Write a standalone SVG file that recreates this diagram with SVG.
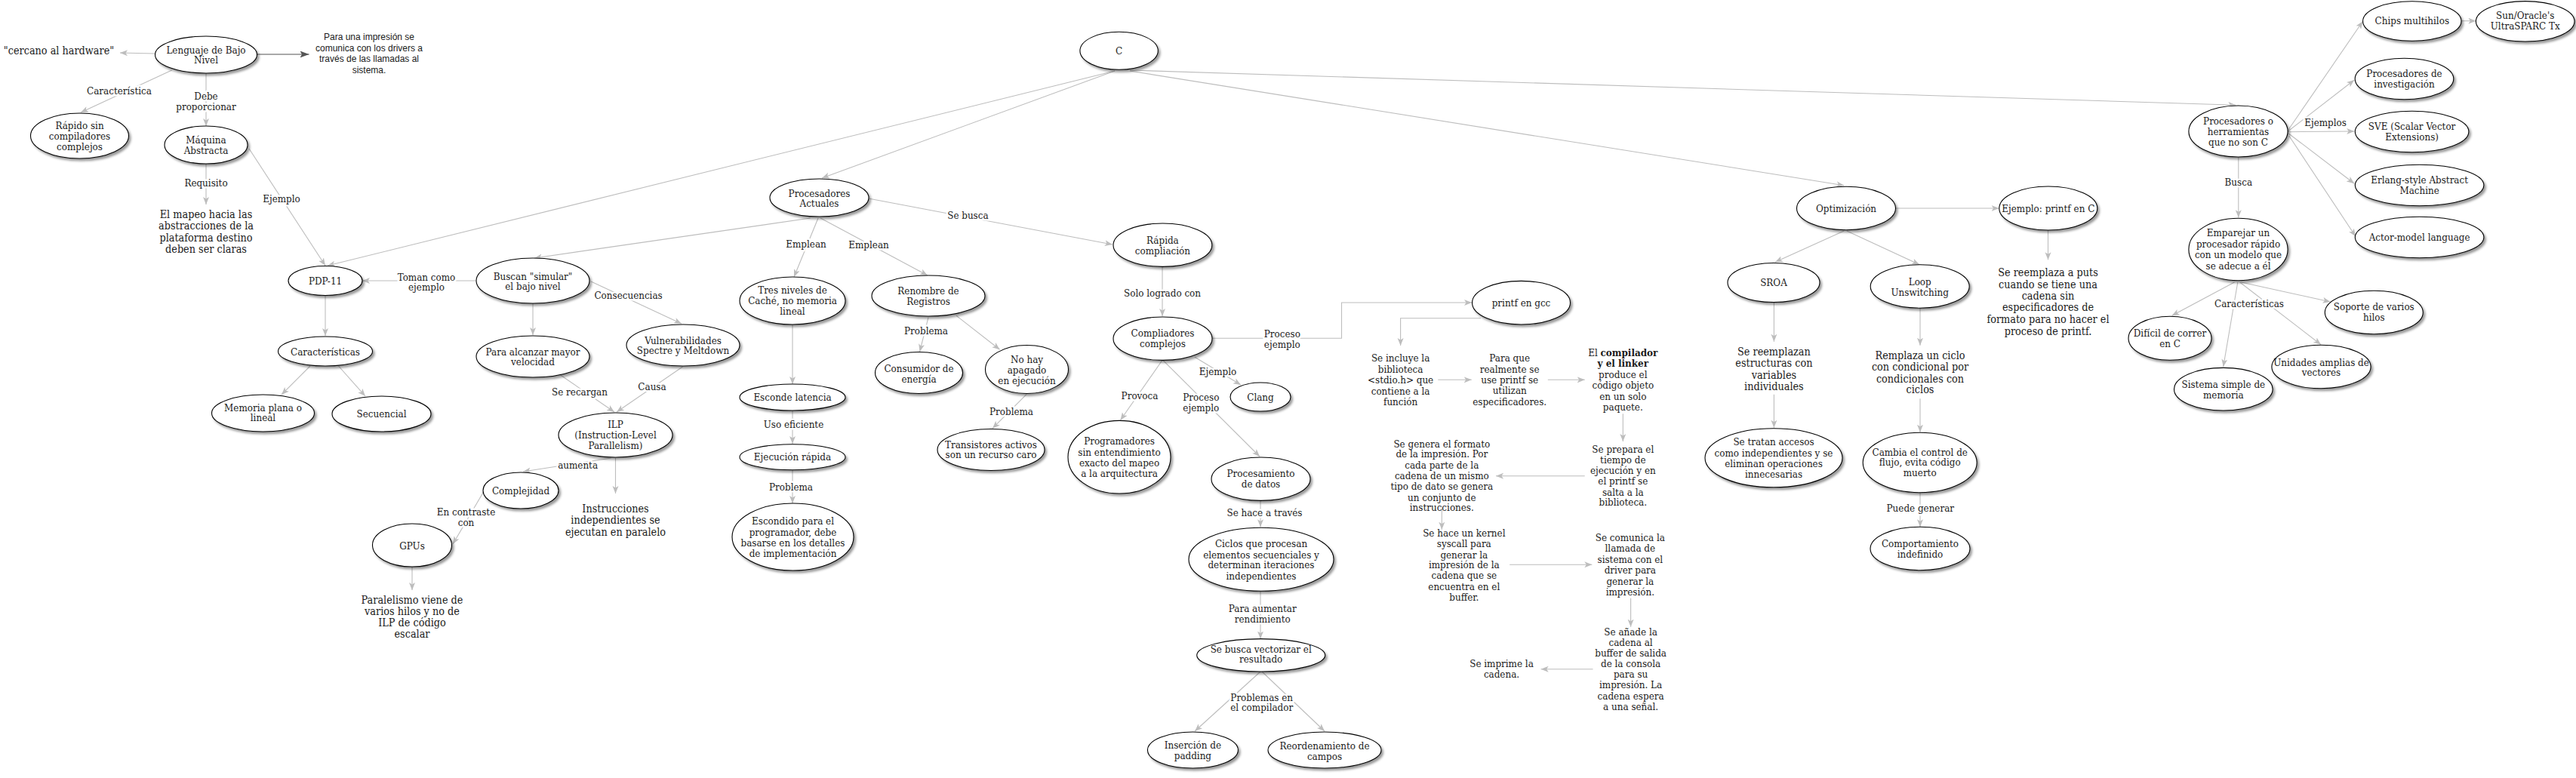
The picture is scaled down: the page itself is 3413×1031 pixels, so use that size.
<svg xmlns="http://www.w3.org/2000/svg" width="3413" height="1031" viewBox="0 0 3413 1031">
<style>
.n{fill:#fff;stroke:#000;stroke-width:1.1;filter:url(#sh)}
text{font-family:'DejaVu Serif Condensed','DejaVu Serif',serif;font-stretch:condensed;fill:#1a1a1a;text-anchor:middle}
.t{font-size:13.3px}
.f{font-size:14.3px}
.s{font-family:'Liberation Sans',Arial,sans-serif;font-stretch:normal;font-size:12px}
.l{font-size:13.3px;paint-order:stroke;stroke:#fff;stroke-width:5px;stroke-linejoin:round}
.e path{fill:none;stroke:#bdbdbd;stroke-width:1.1;marker-end:url(#ar)}
.e path.d{stroke:#555;marker-end:url(#ad)}
.b{font-weight:bold}
</style>
<defs>
<filter id="sh" x="-10%" y="-10%" width="130%" height="140%"><feDropShadow dx="2.5" dy="3" stdDeviation="1.5" flood-color="#000" flood-opacity="0.4"/></filter>
<marker id="ar" markerUnits="userSpaceOnUse" markerWidth="11" markerHeight="9" refX="10" refY="4" orient="auto"><path d="M0,0 L10,4 L0,8 L2.5,4 z" fill="#bdbdbd"/></marker>
<marker id="ad" markerUnits="userSpaceOnUse" markerWidth="13" markerHeight="10" refX="12" refY="4.5" orient="auto"><path d="M0,0 L12,4.5 L0,9 L2.5,4.5 z" fill="#555"/></marker>
</defs>
<rect width="3413" height="1031" fill="#fff"/>
<g id="connectors" class="e">
<path d="M205,71 L159,70"/>
<path class="d" d="M340.6,72 L409.5,72"/>
<path d="M227.7,93 L107,149"/>
<path d="M273,97 L273,167"/>
<path d="M273,217 L273,271"/>
<path d="M330,197 L431,352"/>
<path d="M1477,94 L434,352"/>
<path d="M630.5,372 L480,372"/>
<path d="M431,392 L431,445"/>
<path d="M411,485 L373,523"/>
<path d="M448.5,485 L484,525"/>
<path d="M546,751 L546,782"/>
<path d="M1477,94 L1089,236"/>
<path d="M1073.7,289 L708,342"/>
<path d="M706,402 L706,444"/>
<path d="M783,373 L903,429"/>
<path d="M1084,289 L1052,367"/>
<path d="M1087,289 L1229,365"/>
<path d="M1050,430 L1050,509"/>
<path d="M1050,544 L1050,588"/>
<path d="M1050,623 L1050,667"/>
<path d="M742.6,497 L814,546"/>
<path d="M904.5,486 L817,546"/>
<path d="M809.6,607 L693,625"/>
<path d="M815.5,607 L815.5,654"/>
<path d="M640.5,652 L600,721"/>
<path d="M1152,263.3 L1473.8,324"/>
<path d="M1540,353.3 L1540,419"/>
<path d="M1606,448.3 L1777.5,448.3 L1777.5,401 L1950,401"/>
<path d="M1583,473.3 L1644,510"/>
<path d="M1540,477.3 L1484.5,556.7"/>
<path d="M1540.8,477.3 L1669,605"/>
<path d="M1230,420.7 L1218.6,466"/>
<path d="M1267,418.3 L1324.6,463.3"/>
<path d="M1360,522.7 L1315,567.7"/>
<path d="M1670,663.3 L1670,698.3"/>
<path d="M1670,783.3 L1670,846.5"/>
<path d="M1670,890 L1583,969"/>
<path d="M1672,890 L1755,969"/>
<path d="M1962,421.7 L1855.6,421.7 L1855.6,458"/>
<path d="M1905.3,503.3 L1949.7,503.3"/>
<path d="M2050.8,503.3 L2099.7,503.3"/>
<path d="M2150.3,548.3 L2150.3,585"/>
<path d="M2099.7,630.7 L1982,630.7"/>
<path d="M1910.3,674 L1910.3,701.7"/>
<path d="M2000.2,748.3 L2109.3,748.3"/>
<path d="M2160.6,792.7 L2160.6,830.7"/>
<path d="M2110.5,886.7 L2041.6,886.7"/>
<path d="M1497,93 L2962.3,139.3"/>
<path d="M1497,94 L2443.2,245.7"/>
<path d="M2511.8,276 L2648.6,276"/>
<path d="M2713.5,305 L2713.5,344.3"/>
<path d="M2443.2,306 L2352,347.3"/>
<path d="M2446.8,306 L2543.2,350.7"/>
<path d="M2350.4,400.7 L2350.4,452.7"/>
<path d="M2350.4,522.7 L2350.4,566.7"/>
<path d="M2544,408.3 L2544,457.7"/>
<path d="M2544,528.3 L2544,572.7"/>
<path d="M2544,652.7 L2544,698.3"/>
<path d="M3031,173.3 L3130.5,28.3"/>
<path d="M3031,174.3 L3119.2,106"/>
<path d="M3031,174.7 L3119.2,174"/>
<path d="M3032,176.7 L3119.2,243.3"/>
<path d="M3032.8,180 L3121,313.3"/>
<path d="M3261,27.7 L3280.4,27.7"/>
<path d="M2965.8,208.3 L2965.8,288.3"/>
<path d="M2960.5,374 L2877.6,418.3"/>
<path d="M2964.8,374 L2945.7,486"/>
<path d="M2967.6,374 L3075.1,456.7"/>
<path d="M2969.3,374 L3087.5,400"/>
</g>
<g id="edge-labels" class="l">
<text x="158" y="124.7">Característica</text>
<text x="273" y="131.7">Debe<tspan x="273" y="145.7">proporcionar</tspan></text>
<text x="273" y="246.7">Requisito</text>
<text x="373" y="267.7">Ejemplo</text>
<text x="565" y="371.7">Toman como<tspan x="565" y="384.7">ejemplo</tspan></text>
<text x="832.6" y="395.7">Consecuencias</text>
<text x="768" y="523.7">Se recargan</text>
<text x="864" y="516.7">Causa</text>
<text x="765.6" y="620.7">aumenta</text>
<text x="617.5" y="682.7">En contraste<tspan x="617.5" y="696.7">con</tspan></text>
<text x="1068" y="327.7">Emplean</text>
<text x="1151" y="328.7">Emplean</text>
<text x="1051.5" y="566.7">Uso eficiente</text>
<text x="1048" y="649.7">Problema</text>
<text x="1282.4" y="290.4">Se busca</text>
<text x="1540" y="393">Solo logrado con</text>
<text x="1698.8" y="447.4">Proceso<tspan x="1698.8" y="460.7">ejemplo</tspan></text>
<text x="1227" y="443">Problema</text>
<text x="1340" y="550.4">Problema</text>
<text x="1613.5" y="497.4">Ejemplo</text>
<text x="1510" y="529">Provoca</text>
<text x="1591.3" y="530.7">Proceso<tspan x="1591.3" y="544.7">ejemplo</tspan></text>
<text x="1675.5" y="684">Se hace a través</text>
<text x="1672.8" y="811.4">Para aumentar<tspan x="1672.8" y="825.4">rendimiento</tspan></text>
<text x="1671.7" y="928.7">Problemas en<tspan x="1671.7" y="942">el compilador</tspan></text>
<text x="2544.3" y="678">Puede generar</text>
<text x="2965.8" y="246.4">Busca</text>
<text x="3081.1" y="167.4">Ejemplos</text>
<text x="2980" y="407">Características</text>
</g>
<g id="lenguaje"><ellipse class="n" cx="273" cy="72.5" rx="67.5" ry="24.5"/><text class="t"><tspan x="273" y="70.7">Lenguaje de Bajo</tspan><tspan x="273" y="83.7">Nivel</tspan></text></g>
<g id="cercano"><text class="f" x="78" y="71.8">"cercano al hardware"</text></g>
<g id="para-impresion"><text class="s"><tspan x="489" y="53.3">Para una impresión se</tspan><tspan x="489" y="68.3">comunica con los drivers a</tspan><tspan x="489" y="82.3">través de las llamadas al</tspan><tspan x="489" y="97.3">sistema.</tspan></text></g>
<g id="rapido"><ellipse class="n" cx="105.5" cy="180" rx="65" ry="30"/><text class="t"><tspan x="105.5" y="170.7">Rápido sin</tspan><tspan x="105.5" y="184.7">compiladores</tspan><tspan x="105.5" y="198.7">complejos</tspan></text></g>
<g id="maquina"><ellipse class="n" cx="273" cy="192" rx="55" ry="25"/><text class="t"><tspan x="273" y="189.7">Máquina</tspan><tspan x="273" y="203.7">Abstracta</tspan></text></g>
<g id="mapeo"><text class="f"><tspan x="273" y="289">El mapeo hacia las</tspan><tspan x="273" y="304">abstracciones de la</tspan><tspan x="273" y="320">plataforma destino</tspan><tspan x="273" y="335">deben ser claras</tspan></text></g>
<g id="pdp11"><ellipse class="n" cx="431" cy="372" rx="49" ry="19.5"/><text class="t" x="431" y="376.7">PDP-11</text></g>
<g id="caracteristicas1"><ellipse class="n" cx="431" cy="465.5" rx="62.5" ry="19.5"/><text class="t" x="431" y="470.7">Características</text></g>
<g id="memoria"><ellipse class="n" cx="348.5" cy="547.5" rx="68" ry="24.5"/><text class="t"><tspan x="348.5" y="544.7">Memoria plana o</tspan><tspan x="348.5" y="558.2">lineal</tspan></text></g>
<g id="secuencial"><ellipse class="n" cx="505.5" cy="548.5" rx="65.5" ry="23.5"/><text class="t" x="505.5" y="552.7">Secuencial</text></g>
<g id="gpus"><ellipse class="n" cx="546" cy="722.5" rx="52.5" ry="28.5"/><text class="t" x="546" y="727.7">GPUs</text></g>
<g id="paralelismo"><text class="f"><tspan x="546" y="800">Paralelismo viene de</tspan><tspan x="546" y="815">varios hilos y no de</tspan><tspan x="546" y="830">ILP de código</tspan><tspan x="546" y="845">escalar</tspan></text></g>
<g id="c"><ellipse class="n" cx="1482.6" cy="67.3" rx="51.7" ry="25"/><text class="t" x="1482.6" y="71.7">C</text></g>
<g id="procesadores-actuales"><ellipse class="n" cx="1085.5" cy="262" rx="65.5" ry="25"/><text class="t"><tspan x="1085.5" y="260.7">Procesadores</tspan><tspan x="1085.5" y="273.7">Actuales</tspan></text></g>
<g id="buscan"><ellipse class="n" cx="706" cy="372" rx="75" ry="30"/><text class="t"><tspan x="706" y="370.7">Buscan "simular"</tspan><tspan x="706" y="383.7">el bajo nivel</tspan></text></g>
<g id="alcanzar"><ellipse class="n" cx="706" cy="472.5" rx="75" ry="27.5"/><text class="t"><tspan x="706" y="470.7">Para alcanzar mayor</tspan><tspan x="706" y="483.7">velocidad</tspan></text></g>
<g id="vulnerabilidades"><ellipse class="n" cx="905" cy="457.5" rx="75" ry="27.5"/><text class="t"><tspan x="905" y="455.7">Vulnerabilidades</tspan><tspan x="905" y="468.7">Spectre y Meltdown</tspan></text></g>
<g id="tres-niveles"><ellipse class="n" cx="1050" cy="398.5" rx="70" ry="31.5"/><text class="t"><tspan x="1050" y="388.7">Tres niveles de</tspan><tspan x="1050" y="402.7">Caché, no memoria</tspan><tspan x="1050" y="416.7">lineal</tspan></text></g>
<g id="esconde"><ellipse class="n" cx="1050" cy="526.5" rx="70" ry="17.5"/><text class="t" x="1050" y="531.4">Esconde latencia</text></g>
<g id="ejecucion"><ellipse class="n" cx="1050" cy="605.8" rx="70" ry="17"/><text class="t" x="1050" y="610.4">Ejecución rápida</text></g>
<g id="escondido"><ellipse class="n" cx="1050.5" cy="711.5" rx="80.5" ry="44.5"/><text class="t"><tspan x="1050.5" y="695.4">Escondido para el</tspan><tspan x="1050.5" y="709.7">programador, debe</tspan><tspan x="1050.5" y="723.7">basarse en los detalles</tspan><tspan x="1050.5" y="738.4">de implementación</tspan></text></g>
<g id="ilp"><ellipse class="n" cx="815.5" cy="576.5" rx="75.5" ry="29.5"/><text class="t"><tspan x="815.5" y="566.7">ILP</tspan><tspan x="815.5" y="580.7">(Instruction-Level</tspan><tspan x="815.5" y="594.7">Parallelism)</tspan></text></g>
<g id="complejidad"><ellipse class="n" cx="690" cy="650" rx="50" ry="24"/><text class="t" x="690" y="654.7">Complejidad</text></g>
<g id="instrucciones"><text class="f"><tspan x="815.5" y="679">Instrucciones</tspan><tspan x="815.5" y="694">independientes se</tspan><tspan x="815.5" y="710">ejecutan en paralelo</tspan></text></g>
<g id="rapida"><ellipse class="n" cx="1540.4" cy="324.7" rx="65.4" ry="28.7"/><text class="t"><tspan x="1540.4" y="323.4">Rápida</tspan><tspan x="1540.4" y="337">compliación</tspan></text></g>
<g id="compliadores"><ellipse class="n" cx="1540.5" cy="448.7" rx="65.5" ry="28.7"/><text class="t"><tspan x="1540.5" y="446.4">Compliadores</tspan><tspan x="1540.5" y="460.4">complejos</tspan></text></g>
<g id="renombre"><ellipse class="n" cx="1230" cy="392" rx="75" ry="27"/><text class="t"><tspan x="1230" y="390.4">Renombre de</tspan><tspan x="1230" y="404">Registros</tspan></text></g>
<g id="consumidor"><ellipse class="n" cx="1217.5" cy="494" rx="58" ry="27.5"/><text class="t"><tspan x="1217.5" y="493">Consumidor de</tspan><tspan x="1217.5" y="507.4">energía</tspan></text></g>
<g id="no-hay"><ellipse class="n" cx="1360.5" cy="489.5" rx="55" ry="32"/><text class="t"><tspan x="1360.5" y="481.4">No hay</tspan><tspan x="1360.5" y="495.4">apagado</tspan><tspan x="1360.5" y="509">en ejecución</tspan></text></g>
<g id="clang"><ellipse class="n" cx="1670" cy="526" rx="40" ry="19"/><text class="t" x="1670" y="530.7">Clang</text></g>
<g id="transistores"><ellipse class="n" cx="1313" cy="596" rx="71" ry="27.5"/><text class="t"><tspan x="1313" y="594">Transistores activos</tspan><tspan x="1313" y="607.4">son un recurso caro</tspan></text></g>
<g id="programadores"><ellipse class="n" cx="1483" cy="605.7" rx="68" ry="48.3"/><text class="t"><tspan x="1483" y="588.7">Programadores</tspan><tspan x="1483" y="603.7">sin entendimiento</tspan><tspan x="1483" y="618">exacto del mapeo</tspan><tspan x="1483" y="632">a la arquitectura</tspan></text></g>
<g id="procesamiento"><ellipse class="n" cx="1670.5" cy="634.7" rx="65.5" ry="28.7"/><text class="t"><tspan x="1670.5" y="632">Procesamiento</tspan><tspan x="1670.5" y="646">de datos</tspan></text></g>
<g id="ciclos"><ellipse class="n" cx="1671" cy="741.3" rx="96" ry="42"/><text class="t"><tspan x="1671" y="724.7">Ciclos que procesan</tspan><tspan x="1671" y="739.7">elementos secuenciales y</tspan><tspan x="1671" y="753.4">determinan iteraciones</tspan><tspan x="1671" y="768">independientes</tspan></text></g>
<g id="vectorizar"><ellipse class="n" cx="1670.7" cy="868.3" rx="85" ry="21.7"/><text class="t"><tspan x="1670.7" y="864.7">Se busca vectorizar el</tspan><tspan x="1670.7" y="878">resultado</tspan></text></g>
<g id="insercion"><ellipse class="n" cx="1580.4" cy="994" rx="60" ry="24"/><text class="t"><tspan x="1580.4" y="992.4">Inserción de</tspan><tspan x="1580.4" y="1006.4">padding</tspan></text></g>
<g id="reordenamiento"><ellipse class="n" cx="1755" cy="994" rx="75" ry="24"/><text class="t"><tspan x="1755" y="992.7">Reordenamiento de</tspan><tspan x="1755" y="1006.7">campos</tspan></text></g>
<g id="printf-gcc"><ellipse class="n" cx="2015.5" cy="401.2" rx="65" ry="28.8"/><text class="t" x="2015.5" y="406.4">printf en gcc</text></g>
<g id="se-incluye"><text class="t"><tspan x="1855.6" y="479">Se incluye la</tspan><tspan x="1855.6" y="494">biblioteca</tspan><tspan x="1855.6" y="508">&lt;stdio.h&gt; que</tspan><tspan x="1855.6" y="522.7">contiene a la</tspan><tspan x="1855.6" y="537">función</tspan></text></g>
<g id="para-que"><text class="t"><tspan x="2000.2" y="479">Para que</tspan><tspan x="2000.2" y="494">realmente se</tspan><tspan x="2000.2" y="508">use printf se</tspan><tspan x="2000.2" y="522">utilizan</tspan><tspan x="2000.2" y="537">especificadores.</tspan></text></g>
<g id="el-compilador"><text class="t"><tspan x="2150.3" y="472.4">El <tspan class="b">compilador</tspan></tspan><tspan x="2150.3" y="486.4" class="b">y el linker</tspan><tspan x="2150.3" y="501.4">produce el</tspan><tspan x="2150.3" y="515.4">código objeto</tspan><tspan x="2150.3" y="530.4">en un solo</tspan><tspan x="2150.3" y="544">paquete.</tspan></text></g>
<g id="se-prepara"><text class="t"><tspan x="2150.3" y="599.7">Se prepara el</tspan><tspan x="2150.3" y="613.7">tiempo de</tspan><tspan x="2150.3" y="628">ejecución y en</tspan><tspan x="2150.3" y="642">el printf se</tspan><tspan x="2150.3" y="656.7">salta a la</tspan><tspan x="2150.3" y="670.4">biblioteca.</tspan></text></g>
<g id="se-genera"><text class="t"><tspan x="1910.3" y="593">Se genera el formato</tspan><tspan x="1910.3" y="606.4">de la impresión. Por</tspan><tspan x="1910.3" y="621.4">cada parte de la</tspan><tspan x="1910.3" y="635.4">cadena de un mismo</tspan><tspan x="1910.3" y="649">tipo de dato se genera</tspan><tspan x="1910.3" y="663.7">un conjunto de</tspan><tspan x="1910.3" y="677.4">instrucciones.</tspan></text></g>
<g id="se-hace-kernel"><text class="t"><tspan x="1939.8" y="710.7">Se hace un kernel</tspan><tspan x="1939.8" y="724.7">syscall para</tspan><tspan x="1939.8" y="739.7">generar la</tspan><tspan x="1939.8" y="753.4">impresión de la</tspan><tspan x="1939.8" y="767.4">cadena que se</tspan><tspan x="1939.8" y="782">encuentra en el</tspan><tspan x="1939.8" y="795.7">buffer.</tspan></text></g>
<g id="se-comunica"><text class="t"><tspan x="2159.8" y="717.4">Se comunica la</tspan><tspan x="2159.8" y="731.4">llamada de</tspan><tspan x="2159.8" y="746.4">sistema con el</tspan><tspan x="2159.8" y="760.4">driver para</tspan><tspan x="2159.8" y="774.7">generar la</tspan><tspan x="2159.8" y="788.7">impresión.</tspan></text></g>
<g id="se-anade"><text class="t"><tspan x="2160.6" y="842">Se añade la</tspan><tspan x="2160.6" y="855.7">cadena al</tspan><tspan x="2160.6" y="869.7">buffer de salida</tspan><tspan x="2160.6" y="884">de la consola</tspan><tspan x="2160.6" y="898">para su</tspan><tspan x="2160.6" y="912.4">impresión. La</tspan><tspan x="2160.6" y="926.7">cadena espera</tspan><tspan x="2160.6" y="940.7">a una señal.</tspan></text></g>
<g id="se-imprime"><text class="t"><tspan x="1989.5" y="884">Se imprime la</tspan><tspan x="1989.5" y="898">cadena.</tspan></text></g>
<g id="optimizacion"><ellipse class="n" cx="2446" cy="276" rx="65.5" ry="28.8"/><text class="t" x="2446" y="281.4">Optimización</text></g>
<g id="ejemplo-printf"><ellipse class="n" cx="2713.8" cy="276" rx="65" ry="29"/><text class="t" x="2713.8" y="281.4">Ejemplo: printf en C</text></g>
<g id="se-reemplaza"><text class="f"><tspan x="2713.5" y="365.7">Se reemplaza a puts</tspan><tspan x="2713.5" y="381.7">cuando se tiene una</tspan><tspan x="2713.5" y="396.7">cadena sin</tspan><tspan x="2713.5" y="412.3">especificadores de</tspan><tspan x="2713.5" y="427.7">formato para no hacer el</tspan><tspan x="2713.5" y="443.7">proceso de printf.</tspan></text></g>
<g id="sroa"><ellipse class="n" cx="2350" cy="374.5" rx="61" ry="26"/><text class="t" x="2350" y="379">SROA</text></g>
<g id="se-reemplazan"><text class="f"><tspan x="2350.4" y="470.7">Se reemplazan</tspan><tspan x="2350.4" y="485.7">estructuras con</tspan><tspan x="2350.4" y="501.7">variables</tspan><tspan x="2350.4" y="516.7">individuales</tspan></text></g>
<g id="se-tratan"><ellipse class="n" cx="2350" cy="606.8" rx="91" ry="39"/><text class="t"><tspan x="2350" y="589.7">Se tratan accesos</tspan><tspan x="2350" y="604.7">como independientes y se</tspan><tspan x="2350" y="618.7">eliminan operaciones</tspan><tspan x="2350" y="633">innecesarias</tspan></text></g>
<g id="loop"><ellipse class="n" cx="2543.7" cy="379.5" rx="65.5" ry="28.8"/><text class="t"><tspan x="2543.7" y="378">Loop</tspan><tspan x="2543.7" y="392">Unswitching</tspan></text></g>
<g id="remplaza"><text class="f"><tspan x="2544" y="475.7">Remplaza un ciclo</tspan><tspan x="2544" y="491">con condicional por</tspan><tspan x="2544" y="506.7">condicionales con</tspan><tspan x="2544" y="521">ciclos</tspan></text></g>
<g id="cambia"><ellipse class="n" cx="2543.7" cy="613" rx="75.5" ry="39.7"/><text class="t"><tspan x="2543.7" y="603.7">Cambia el control de</tspan><tspan x="2543.7" y="617.4">flujo, evita código</tspan><tspan x="2543.7" y="631.4">muerto</tspan></text></g>
<g id="comportamiento"><ellipse class="n" cx="2544" cy="727" rx="66" ry="28.8"/><text class="t"><tspan x="2544" y="724.7">Comportamiento</tspan><tspan x="2544" y="738.7">indefinido</tspan></text></g>
<g id="procesadores-herramientas"><ellipse class="n" cx="2965.5" cy="174" rx="65.6" ry="34"/><text class="t"><tspan x="2965.5" y="164.7">Procesadores o</tspan><tspan x="2965.5" y="178.7">herramientas</tspan><tspan x="2965.5" y="193">que no son C</tspan></text></g>
<g id="chips"><ellipse class="n" cx="3195.8" cy="28" rx="65.2" ry="26.3"/><text class="t" x="3195.8" y="32">Chips multihilos</text></g>
<g id="sun"><ellipse class="n" cx="3345.7" cy="28.3" rx="65.3" ry="26.7"/><text class="t"><tspan x="3345.7" y="25.4">Sun/Oracle's</tspan><tspan x="3345.7" y="39">UltraSPARC Tx</tspan></text></g>
<g id="proc-investigacion"><ellipse class="n" cx="3185.5" cy="104.5" rx="65.3" ry="27.2"/><text class="t"><tspan x="3185.5" y="102">Procesadores de</tspan><tspan x="3185.5" y="115.7">investigación</tspan></text></g>
<g id="sve"><ellipse class="n" cx="3195.6" cy="174.5" rx="75.3" ry="27.2"/><text class="t"><tspan x="3195.6" y="172">SVE (Scalar Vector</tspan><tspan x="3195.6" y="185.7">Extensions)</tspan></text></g>
<g id="erlang"><ellipse class="n" cx="3205.6" cy="245.5" rx="85.3" ry="27.2"/><text class="t"><tspan x="3205.6" y="243">Erlang-style Abstract</tspan><tspan x="3205.6" y="257">Machine</tspan></text></g>
<g id="actor"><ellipse class="n" cx="3205.6" cy="314.5" rx="85.3" ry="27.2"/><text class="t" x="3205.6" y="319">Actor-model language</text></g>
<g id="emparejar"><ellipse class="n" cx="2965.5" cy="330.5" rx="65.6" ry="41.2"/><text class="t"><tspan x="2965.5" y="313">Emparejar un</tspan><tspan x="2965.5" y="328">procesador rápido</tspan><tspan x="2965.5" y="342.4">con un modelo que</tspan><tspan x="2965.5" y="357">se adecue a él</tspan></text></g>
<g id="dificil"><ellipse class="n" cx="2875" cy="448.3" rx="55" ry="29"/><text class="t"><tspan x="2875" y="446.4">Difícil de correr</tspan><tspan x="2875" y="460.4">en C</tspan></text></g>
<g id="sistema-simple"><ellipse class="n" cx="2945.8" cy="515.7" rx="65.3" ry="28.3"/><text class="t"><tspan x="2945.8" y="514">Sistema simple de</tspan><tspan x="2945.8" y="528">memoria</tspan></text></g>
<g id="unidades"><ellipse class="n" cx="3075.5" cy="486" rx="65.6" ry="28.8"/><text class="t"><tspan x="3075.5" y="484.7">Unidades amplias de</tspan><tspan x="3075.5" y="498">vectores</tspan></text></g>
<g id="soporte"><ellipse class="n" cx="3145.3" cy="414" rx="65" ry="28.8"/><text class="t"><tspan x="3145.3" y="411.4">Soporte de varios</tspan><tspan x="3145.3" y="425.4">hilos</tspan></text></g>
</svg>
